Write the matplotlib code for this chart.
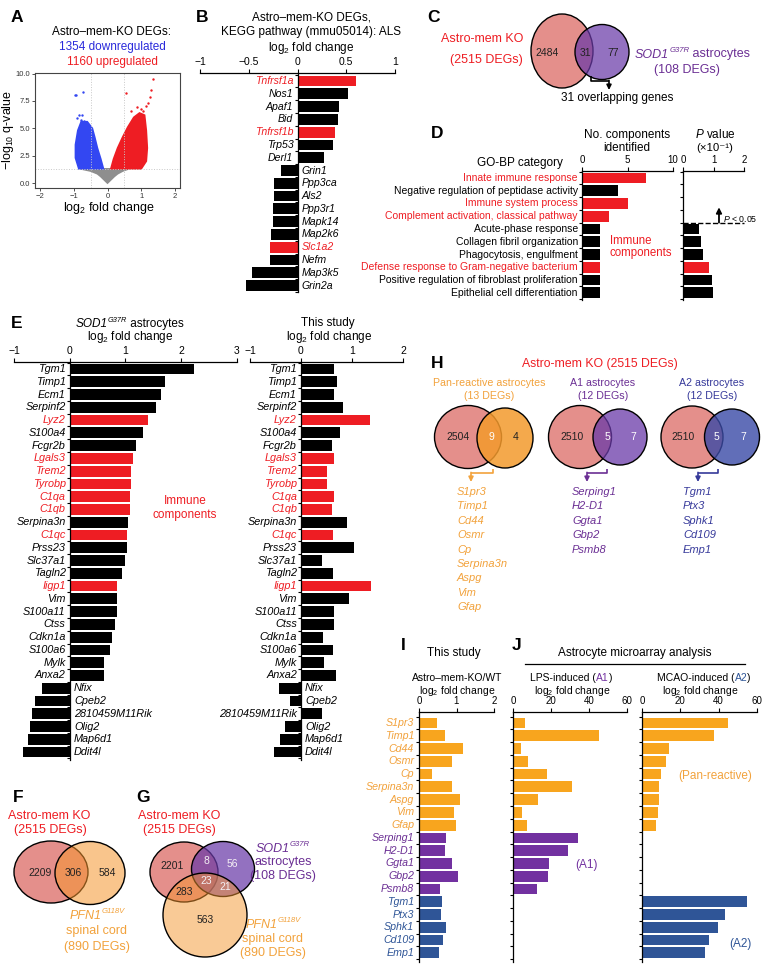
import numpy as np
import matplotlib
matplotlib.use('Agg')
import matplotlib.pyplot as plt
from matplotlib.patches import Ellipse, Polygon
from matplotlib.colors import to_rgba

plt.rcParams['font.family'] = ['Liberation Sans', 'DejaVu Sans']
plt.rcParams['mathtext.fontset'] = 'custom'
plt.rcParams['mathtext.rm'] = 'Liberation Sans'
plt.rcParams['mathtext.it'] = 'Liberation Sans:italic'
plt.rcParams['mathtext.bf'] = 'Liberation Sans:bold'
plt.rcParams['axes.linewidth'] = 0.9

# ---------------- data ----------------
# A: volcano (cloud outlines read off the picture + outlying points)
n_down, n_up = 1354, 1160
gray_x = [-0.8, -0.5, -0.3, -0.2, -0.1, 0.0, 0.1, 0.2, 0.3, 0.45, 0.63]
gray_y = [1.3, 1.1, 0.85, 0.6, 0.3, 0.0, 0.3, 0.6, 0.85, 1.1, 1.3]
blue_x = [-0.12, -0.2, -0.3, -0.38, -0.45, -0.6, -0.78, -0.88, -0.95, -0.95, -0.85]
blue_y = [1.3, 2.2, 3.2, 4.2, 5.0, 5.6, 5.6, 4.8, 3.5, 2.3, 1.3]
red_x = [0.1, 0.18, 0.3, 0.45, 0.6, 0.78, 0.95, 1.1, 1.15, 1.18, 1.15, 1.0]
red_y = [1.3, 2.2, 3.2, 4.2, 5.1, 6.0, 6.4, 6.2, 4.8, 3.2, 2.0, 1.3]
blue_out_x = [-0.97, -0.92, -0.73, -0.84, -0.77, -0.8, -0.9, -0.7]
blue_out_y = [8.0, 8.0, 8.3, 6.2, 6.2, 5.8, 5.9, 5.7]
red_out_x = [0.55, 0.7, 0.88, 1.05, 1.2, 1.25, 1.3, 1.35, 1.0, 1.15]
red_out_y = [8.2, 6.6, 6.9, 6.6, 7.3, 7.9, 8.5, 9.5, 6.8, 7.0]

# B: KEGG ALS pathway
b_genes = ['Tnfrsf1a', 'Nos1', 'Apaf1', 'Bid', 'Tnfrsf1b', 'Trp53', 'Derl1', 'Grin1', 'Ppp3ca',
           'Als2', 'Ppp3r1', 'Mapk14', 'Map2k6', 'Slc1a2', 'Nefm', 'Map3k5', 'Grin2a']
b_vals = [0.60, 0.52, 0.43, 0.42, 0.38, 0.36, 0.27, -0.17, -0.24, -0.24, -0.25, -0.25,
          -0.27, -0.28, -0.28, -0.47, -0.53]
b_red = ['Tnfrsf1a', 'Tnfrsf1b', 'Slc1a2']

# C: venn
c_counts = [2484, 31, 77]
c_totals = [2515, 108]

# D: GO-BP
d_cats = ['Innate immune response', 'Negative regulation of peptidase activity',
          'Immune system process', 'Complement activation, classical pathway',
          'Acute-phase response', 'Collagen fibril organization', 'Phagocytosis, engulfment',
          'Defense response to Gram-negative bacterium',
          'Positive regulation of fibroblast proliferation', 'Epithelial cell differentiation']
d_counts = [7, 4, 5, 3, 2, 2, 2, 2, 2, 2]
d_pvals = [0.03, 0.03, 0.03, 0.03, 0.52, 0.58, 0.67, 0.84, 0.95, 0.99]
d_immune = [True, False, True, True, False, False, False, True, False, False]

# E: overlapping genes
e_genes = ['Tgm1', 'Timp1', 'Ecm1', 'Serpinf2', 'Lyz2', 'S100a4', 'Fcgr2b', 'Lgals3', 'Trem2',
           'Tyrobp', 'C1qa', 'C1qb', 'Serpina3n', 'C1qc', 'Prss23', 'Slc37a1', 'Tagln2', 'Iigp1',
           'Vim', 'S100a11', 'Ctss', 'Cdkn1a', 'S100a6', 'Mylk', 'Anxa2', 'Nfix', 'Cpeb2',
           '2810459M11Rik', 'Olig2', 'Map6d1', 'Ddit4l']
e_sod1 = [2.22, 1.70, 1.63, 1.55, 1.40, 1.31, 1.18, 1.13, 1.09, 1.09, 1.08, 1.08, 1.05, 1.03,
          1.03, 1.00, 0.94, 0.84, 0.84, 0.84, 0.81, 0.76, 0.72, 0.62, 0.62, -0.50, -0.62, -0.67,
          -0.71, -0.75, -0.83]
e_study = [0.64, 0.71, 0.64, 0.83, 1.35, 0.77, 0.61, 0.65, 0.51, 0.51, 0.65, 0.61, 0.90, 0.63,
           1.04, 0.41, 0.63, 1.38, 0.94, 0.65, 0.65, 0.43, 0.63, 0.45, 0.68, -0.44, -0.21, 0.41,
           -0.31, -0.41, -0.53]
e_immune = ['Lyz2', 'Lgals3', 'Trem2', 'Tyrobp', 'C1qa', 'C1qb', 'C1qc', 'Iigp1']

# F, G: venns
f_counts = [2209, 306, 584]
g_counts = [2201, 8, 56, 23, 21, 283, 563]
pfn1_total = 890

# H: reactive astrocyte venns
h_sets = ['Pan-reactive astrocytes', 'A1 astrocytes', 'A2 astrocytes']
h_totals = [13, 12, 12]
h_ko_only = [2504, 2510, 2510]
h_overlap = [9, 5, 5]
h_only = [4, 7, 7]

# I, J
ij_genes = ['S1pr3', 'Timp1', 'Cd44', 'Osmr', 'Cp', 'Serpina3n', 'Aspg', 'Vim', 'Gfap',
            'Serping1', 'H2-D1', 'Ggta1', 'Gbp2', 'Psmb8', 'Tgm1', 'Ptx3', 'Sphk1', 'Cd109', 'Emp1']
ij_group = ['pan'] * 9 + ['A1'] * 5 + ['A2'] * 5
i_vals = [0.47, 0.69, 1.16, 0.89, 0.35, 0.89, 1.09, 0.93, 0.98, 0.71, 0.69, 0.87, 1.04, 0.56,
          0.62, 0.58, 0.71, 0.65, 0.54]
lps_vals = [6.3, 45.3, 4.0, 7.7, 17.7, 30.9, 13.0, 4.6, 7.3, 34.0, 29.1, 19.0, 18.6, 12.7,
            0, 0, 0, 0, 0]
mcao_vals = [44.9, 37.4, 14.3, 12.5, 9.9, 9.0, 9.0, 8.5, 7.3, 0, 0, 0, 0, 0,
             54.6, 43.1, 39.6, 34.9, 33.0]

# ---------------- colours ----------------
RED = '#EE1D23'
BLUE_T = '#2A2ADB'
BLUE_P = '#3347F2'
GRAY = '#8E8E8E'
SALMON = '#D9605A'
PURPLE = '#7231A0'
PURPLE_T = '#6B2F94'
ORANGE = '#F8A51E'
ORANGE_T = '#F2A23C'
NAVY = '#2F5597'
NAVY_T = '#36399A'
grp_col = {'pan': ORANGE, 'A1': PURPLE, 'A2': NAVY}
grp_txt = {'pan': ORANGE_T, 'A1': PURPLE_T, 'A2': NAVY}

W, H = 764, 972
fig = plt.figure(figsize=(W / 100, H / 100), dpi=100)


def px_axes(x0, y0, x1, y1):
    ax = fig.add_axes([x0 / W, 1 - y1 / H, (x1 - x0) / W, (y1 - y0) / H])
    ax.patch.set_alpha(0)
    return ax


ov = px_axes(0, 0, W, H)
ov.set_xlim(0, W)
ov.set_ylim(H, 0)
ov.axis('off')


def txt(x, y, s, size=8.5, color='black', ha='center', **kw):
    ov.text(x, y, s, fontsize=size, color=color, ha=ha, va='center', **kw)


def letter(x, y, s):
    txt(x, y, s, size=12.5, weight='bold')


def place_row(x, objs, ha):
    # lay text pieces side by side, widths measured by the renderer
    r = fig.canvas.get_renderer()
    ws = [o.get_window_extent(r).width for o in objs]
    x0 = x - sum(ws) / 2 if ha == 'center' else x
    for o, w in zip(objs, ws):
        o.set_x(x0)
        x0 += w


def multi_text(x, y, parts, size):
    objs = [ov.text(0, y, s, color=c, fontsize=size, ha='left', va='center') for s, c in parts]
    place_row(x, objs, 'center')


def sup_text(x, y, base, sup, rest, size, color, ha='center'):
    # italic gene name with a raised italic superscript; y is the line centre
    em = size * 100 / 72
    yb = y + 0.36 * em
    objs = [ov.text(0, yb, base, fontsize=size, color=color, style='italic', va='baseline'),
            ov.text(0, yb - 0.42 * em, sup, fontsize=size * 0.62, color=color, style='italic',
                    va='baseline')]
    if rest:
        objs.append(ov.text(0, yb, rest, fontsize=size, color=color, va='baseline'))
    place_row(x, objs, ha)


def ell(cx, cy, w, h, fc, alpha):
    ov.add_patch(Ellipse((cx, cy), w, h, facecolor=to_rgba(fc, alpha), edgecolor='black', lw=1.0))


def bent_arrow(xs, xe, y0, ym, ytip, color):
    ov.plot([xs, xs, xe], [y0, ym, ym], color=color, lw=1.2, solid_capstyle='butt')
    ov.annotate('', xy=(xe, ytip), xytext=(xe, ym - 0.6),
                arrowprops=dict(arrowstyle='-|>', color=color, lw=1.2, mutation_scale=7,
                                shrinkA=0, shrinkB=0))


def bar_axes(x0, x1, spine_y, c0, step, n, bottom_y, xlim, xticks, xlabels, tsize=7):
    ax = px_axes(x0, spine_y, x1, bottom_y)
    ax.set_xlim(*xlim)
    ax.set_ylim((bottom_y - c0) / step, (spine_y - c0) / step)
    for s in ('right', 'bottom'):
        ax.spines[s].set_visible(False)
    ax.spines['left'].set_position(('data', 0))
    ax.xaxis.tick_top()
    ax.set_xticks(xticks)
    ax.set_xticklabels(xlabels, fontsize=tsize)
    ax.tick_params(axis='x', length=3, width=0.8, pad=1)
    ax.set_yticks(np.arange(n + 1) - 0.5)
    ax.set_yticklabels([])
    ax.tick_params(axis='y', length=2.5, width=0.8)
    return ax


def gene_labels(ax, names, vals, colors, size, italic=True, gap=3):
    for i, (g, v, c) in enumerate(zip(names, vals, colors)):
        right = v >= 0
        ax.annotate(g, (0, i), xytext=(-gap if right else gap, 0), textcoords='offset points',
                    ha='right' if right else 'left', va='center', fontsize=size, color=c,
                    style='italic' if italic else 'normal', annotation_clip=False)


# ---------------- A ----------------
letter(17, 18, 'A')
txt(112, 32, 'Astro–mem-KO DEGs:')
txt(112, 47, f'{n_down} downregulated', color=BLUE_T)
txt(112, 62, f'{n_up} upregulated', color=RED)
ax = px_axes(35, 73, 180, 188)
ax.patch.set_alpha(1)
ax.set_xlim(-2.15, 2.15)
ax.set_ylim(-0.45, 10.05)
for v in (-0.5, 0.5):
    ax.axvline(v, color='#c8c8c8', ls=':', lw=0.7)
ax.axhline(1.3, color='#c8c8c8', ls=':', lw=0.7)
ax.add_patch(Polygon(np.column_stack([gray_x, gray_y]), closed=True, fc=GRAY, ec=GRAY, lw=1.2))
ax.add_patch(Polygon(np.column_stack([blue_x, blue_y]), closed=True, fc=BLUE_P, ec=BLUE_P, lw=1.2))
ax.add_patch(Polygon(np.column_stack([red_x, red_y]), closed=True, fc=RED, ec=RED, lw=1.2))
ax.scatter(blue_out_x, blue_out_y, s=3, color=BLUE_P, lw=0)
ax.scatter(red_out_x, red_out_y, s=3, color=RED, lw=0)
ax.set_xticks([-2, -1, 0, 1, 2])
ax.set_xticklabels(['−2', '−1', '0', '1', '2'])
ax.set_yticks([0, 2.5, 5, 7.5, 10])
ax.set_yticklabels(['0.0', '2.5', '5.0', '7.5', '10.0'])
ax.tick_params(labelsize=5.5, length=2, width=0.6, pad=1.5, colors='#333333')
for s in ax.spines.values():
    s.set_color('#444444')
    s.set_linewidth(0.8)
txt(109, 208, 'log$_2$ fold change', size=9)
txt(8, 130, '−log$_{10}$ q-value', size=9, rotation=90)

# ---------------- B ----------------
letter(202, 17, 'B')
txt(311, 17, 'Astro–mem-KO DEGs,')
txt(311, 32, 'KEGG pathway (mmu05014): ALS')
txt(311, 48, 'log$_2$ fold change')
nb = len(b_genes)
ax = bar_axes(200, 395, 73, 81, 12.83, nb, 292, (-1, 1), [-1, -0.5, 0, 0.5, 1],
              ['−1', '−0.5', '0', '0.5', '1'], tsize=7.5)
b_cols = [RED if g in b_red else 'black' for g in b_genes]
ax.barh(range(nb), b_vals, height=0.84, color=b_cols)
gene_labels(ax, b_genes, b_vals, b_cols, 7.6)

# ---------------- C ----------------
letter(433, 18, 'C')
ell(562, 51, 62, 74, SALMON, 0.7)
ell(602, 52, 54, 55, '#6A3AA8', 0.72)
for x, n in zip([547, 585, 613], c_counts):
    txt(x, 53, str(n), size=7.5, color='#222222')
txt(523, 39, 'Astro-mem KO', size=9, color=RED, ha='right')
txt(523, 60, f'({c_totals[0]} DEGs)', size=9, color=RED, ha='right')
sup_text(635, 53, 'SOD1', 'G37R', ' astrocytes', 9, PURPLE_T, ha='left')
txt(687, 70, f'({c_totals[1]} DEGs)', size=9, color=PURPLE_T)
bent_arrow(591, 609, 76, 81, 90, 'black')
txt(617, 98, f'{c_counts[1]} overlapping genes', size=8.5)

# ---------------- D ----------------
letter(437, 134, 'D')
txt(563, 163, 'GO-BP category', ha='right')
txt(627, 135, 'No. components')
txt(627, 148, 'identified')
txt(715, 135, r'$\mathit{P}$ value')
txt(715, 148, '(×10⁻¹)', size=8.2)
nd = len(d_cats)
d_cols = [RED if im else 'black' for im in d_immune]
ax = bar_axes(582, 673, 171, 178, 12.75, nd, 300, (0, 10), [0, 5, 10], ['0', '5', '10'])
ax.barh(range(nd), d_counts, height=0.84, color=d_cols)
gene_labels(ax, d_cats, d_counts, d_cols, 7.5, italic=False)
txt(610, 241, 'Immune', size=8.3, color=RED, ha='left')
txt(610, 253, 'components', size=8.3, color=RED, ha='left')
ax = bar_axes(683, 744, 171, 178, 12.75, nd, 300, (0, 2), [0, 1, 2], ['0', '1', '2'])
ax.barh(range(nd), d_pvals, height=0.84, color=d_cols)
ax.plot([0, 2], [3.5, 3.5], color='black', ls='--', lw=1, clip_on=False)
ax.annotate('', xy=(1.18, 2.3), xytext=(1.18, 3.5),
            arrowprops=dict(arrowstyle='-|>', lw=1.3, color='black', mutation_scale=8,
                            shrinkA=0, shrinkB=0), annotation_clip=False)
ax.text(1.31, 3.2, r'$\mathit{P}$ < 0.05', fontsize=6.3, va='center', ha='left', clip_on=False)

# ---------------- E ----------------
letter(17, 323, 'E')
sup_text(130, 323, 'SOD1', 'G37R', ' astrocytes', 8.5, 'black')
txt(130, 337, 'log$_2$ fold change')
txt(328, 323, 'This study')
txt(329, 337, 'log$_2$ fold change')
ne = len(e_genes)
e_cols = [RED if g in e_immune else 'black' for g in e_genes]
ax = bar_axes(14, 237, 362, 369, 12.77, ne, 760, (-1, 3), [-1, 0, 1, 2, 3],
              ['−1', '0', '1', '2', '3'], tsize=7.5)
ax.barh(range(ne), e_sod1, height=0.84, color=e_cols)
gene_labels(ax, e_genes, e_sod1, e_cols, 7.8)
txt(185, 501, 'Immune', size=8.5, color=RED)
txt(185, 515, 'components', size=8.5, color=RED)
ax = bar_axes(250, 403, 362, 369, 12.77, ne, 760, (-1, 2), [-1, 0, 1, 2],
              ['−1', '0', '1', '2'], tsize=7.5)
ax.barh(range(ne), e_study, height=0.84, color=e_cols)
gene_labels(ax, e_genes, e_study, e_cols, 7.8)

# ---------------- F ----------------
letter(18, 797, 'F')
txt(49, 816, 'Astro-mem KO', size=9, color=RED)
txt(50, 830, f'({c_totals[0]} DEGs)', size=9, color=RED)
ell(51, 872, 74, 62, SALMON, 0.7)
ell(90, 873, 70, 63, '#F5962E', 0.55)
for x, n in zip([40, 73, 107], f_counts):
    txt(x, 873, str(n), size=7.5, color='#222222')
sup_text(97, 914, 'PFN1', 'G118V', '', 9, ORANGE_T)
txt(97, 931, 'spinal cord', size=9, color=ORANGE_T)
txt(97, 947, f'({pfn1_total} DEGs)', size=9, color=ORANGE_T)

# ---------------- G ----------------
letter(143, 797, 'G')
txt(179, 816, 'Astro-mem KO', size=9, color=RED)
txt(179, 830, f'({c_totals[0]} DEGs)', size=9, color=RED)
ell(184, 872, 68, 60, SALMON, 0.7)
ell(223, 869, 63, 55, '#6A3AA8', 0.72)
ell(205, 915, 84, 84, '#F5962E', 0.5)
g_pos = [(172, 866), (206, 861), (232, 864), (206, 881), (225, 887), (184, 892), (205, 920)]
g_light = [False, True, True, True, True, False, False]
for (x, y), n, lt in zip(g_pos, g_counts, g_light):
    txt(x, y, str(n), size=7.5, color='#f4f0f4' if lt else '#222222')
sup_text(283, 847, 'SOD1', 'G37R', '', 9, PURPLE_T)
txt(283, 862, 'astrocytes', size=9, color=PURPLE_T)
txt(283, 876, f'({c_totals[1]} DEGs)', size=9, color=PURPLE_T)
sup_text(273, 923, 'PFN1', 'G118V', '', 9, ORANGE_T)
txt(273, 939, 'spinal cord', size=9, color=ORANGE_T)
txt(273, 953, f'({pfn1_total} DEGs)', size=9, color=ORANGE_T)

# ---------------- H ----------------
letter(437, 363, 'H')
txt(600, 364, f'Astro-mem KO ({c_totals[0]} DEGs)', size=8.8, color=RED)
h_title_x = [489, 603, 712]
h_title_col = [ORANGE_T, PURPLE_T, NAVY_T]
h_ko_c = [(468, 437, 67, 63), (580, 437, 63, 63), (692, 437, 62, 62)]
h_set_c = [(505, 438, 56, 60), (620, 437, 54, 56), (732, 437, 55, 56)]
h_set_fc = [('#F39A2C', 0.85), ('#6A3AA8', 0.75), ('#3A4AA6', 0.8)]
h_num_x = [(458, 491, 516), (572, 607, 633), (683, 716, 743)]
h_arrow = [(493, 471), (607, 587), (718, 698)]
h_list_x = [457, 572, 683]
h_grp = ['pan', 'A1', 'A2']
for k in range(3):
    txt(h_title_x[k], 383, h_sets[k], size=7.7, color=h_title_col[k])
    txt(h_title_x[k], 396, f'({h_totals[k]} DEGs)', size=7.7, color=h_title_col[k])
    ell(*h_ko_c[k], SALMON, 0.7)
    ell(*h_set_c[k], *h_set_fc[k])
    xs = h_num_x[k]
    txt(xs[0], 437, str(h_ko_only[k]), size=7.5, color='#222222')
    txt(xs[1], 437, str(h_overlap[k]), size=7.5, color='white')
    txt(xs[2], 437, str(h_only[k]), size=7.5, color='#222222' if k == 0 else 'white')
    gcol = h_title_col[k]
    bent_arrow(h_arrow[k][0], h_arrow[k][1], 469, 473, 482, gcol)
    genes = [g for g, grp in zip(ij_genes, ij_group) if grp == h_grp[k]]
    for j, g in enumerate(genes):
        txt(h_list_x[k], 492 + j * 14.4, g, size=8, color=gcol, ha='left', style='italic')

# ---------------- I ----------------
letter(403, 645, 'I')
txt(454, 653, 'This study')
txt(457, 678, 'Astro–mem-KO/WT', size=7.5)
txt(457, 691, 'log$_2$ fold change', size=7.5)
ni = len(ij_genes)
bar_c = [grp_col[g] for g in ij_group]
lab_c = [grp_txt[g] for g in ij_group]
ax = bar_axes(419, 494, 712, 723, 12.77, ni, 962, (0, 2), [0, 1, 2], ['0', '1', '2'])
ax.barh(range(ni), i_vals, height=0.84, color=bar_c)
gene_labels(ax, ij_genes, i_vals, lab_c, 7.7, gap=3.5)

# ---------------- J ----------------
letter(517, 645, 'J')
txt(635, 653, 'Astrocyte microarray analysis')
ov.plot([525, 745], [664, 664], color='black', lw=0.9)
multi_text(571, 678, [('LPS-induced (', 'black'), ('A1', PURPLE), (')', 'black')], 7.5)
txt(572, 691, 'log$_2$ fold change', size=7.5)
multi_text(704, 678, [('MCAO-induced (', 'black'), ('A2', NAVY), (')', 'black')], 7.5)
txt(700, 691, 'log$_2$ fold change', size=7.5)
ax = bar_axes(513, 627, 712, 723, 12.77, ni, 962, (0, 60), [0, 20, 40, 60], ['0', '20', '40', '60'])
ax.barh(range(ni), lps_vals, height=0.84, color=bar_c)
ax = bar_axes(642, 757, 712, 723, 12.77, ni, 962, (0, 60), [0, 20, 40, 60], ['0', '20', '40', '60'])
ax.barh(range(ni), mcao_vals, height=0.84, color=bar_c)
txt(587, 865, '(A1)', size=8.5, color=PURPLE)
txt(715, 776, '(Pan-reactive)', size=8.5, color=ORANGE_T)
txt(740, 944, '(A2)', size=8.5, color=NAVY)

fig.savefig('out.png', dpi=100)
